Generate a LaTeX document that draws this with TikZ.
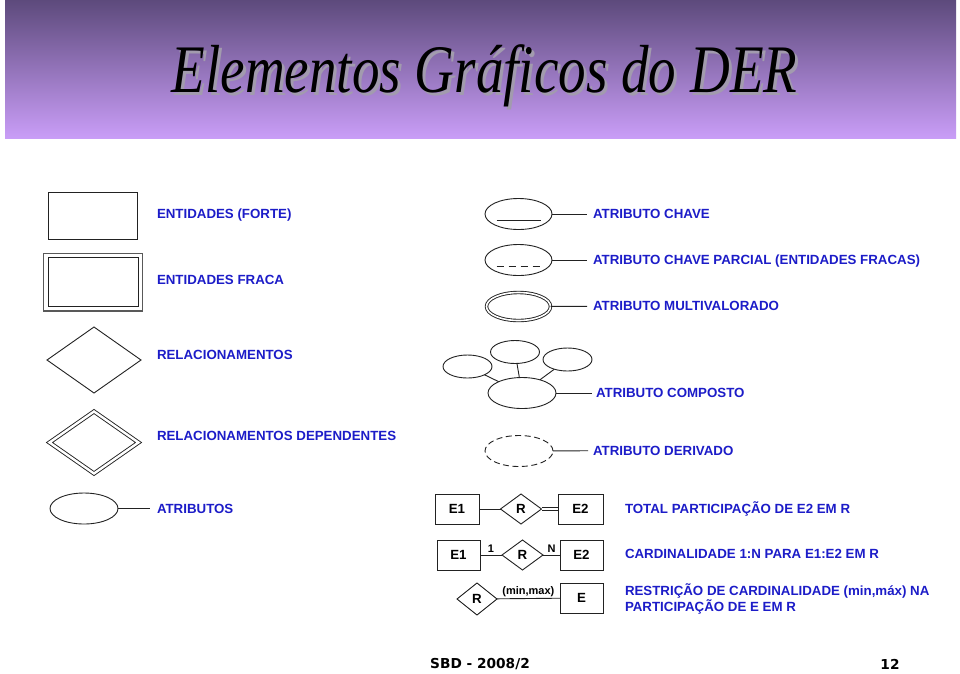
\documentclass[tikz,border=0pt]{standalone}
\usepackage{fontspec}
\usepackage{tikz}
\usetikzlibrary{positioning,shapes.geometric,calc}
\newfontfamily\derlabel{Liberation Sans}
\newfontfamily\derfoot{DejaVu Sans}
\newfontfamily\dertitle{Liberation Serif}
\definecolor{DerBlue}{HTML}{1C1CC8}
\definecolor{DerLine}{HTML}{222222}
\definecolor{DerPurpleTop}{HTML}{5D4A7C}
\definecolor{DerPurpleMid}{HTML}{9472C0}
\definecolor{DerPurpleLow}{HTML}{C99DF7}
\definecolor{DerShadow}{HTML}{A29BAE}
\newcommand{\dertitletext}{\scalebox{0.81}[1]{Elementos Gráficos do DER}}

\begin{document}
\begin{tikzpicture}[
  x=1pt, y=-1pt,
  every node/.style={inner sep=0pt, outer sep=0pt},
  lbl/.style={anchor=west, text=DerBlue, font=\derlabel\bfseries\fontsize{13.3}{15.5}\selectfont, text height=9.5pt, text depth=0pt},
  erline/.style={draw=DerLine, line width=0.9pt},
  ent/.style={erline, minimum width=89pt, minimum height=47pt},
  rel/.style={erline, diamond, minimum width=94pt, minimum height=66pt},
  weakrel/.style={erline, diamond, double, double distance=2.4pt, minimum width=89pt, minimum height=62pt},
  atr/.style={erline, ellipse, minimum width=67pt, minimum height=31pt},
  subatr/.style={erline, ellipse, minimum width=49pt, minimum height=23pt},
  smallent/.style={erline, minimum width=44pt, minimum height=30pt, font=\derlabel\bfseries\fontsize{13.3}{15.5}\selectfont},
  smallrel/.style={erline, diamond, minimum width=41pt, minimum height=30pt, font=\derlabel\bfseries\fontsize{13.3}{15.5}\selectfont},
  link/.style={erline, shorten >=6pt},
  card/.style={font=\derlabel\bfseries\fontsize{11}{12}\selectfont},
  titletext/.style={font=\dertitle\itshape\fontsize{68}{72}\selectfont}
]
\useasboundingbox (0,0) rectangle (960,673);
\fill[white] (0,0) rectangle (960,673);

% title band, shadow set in the same node
\shade[top color=DerPurpleTop, middle color=DerPurpleMid, bottom color=DerPurpleLow] (5,0) rectangle (956,138);
\node[titletext] (title) at (484.5,77.5) {\rlap{\hspace{3pt}\raisebox{-3pt}{\color{DerShadow}\dertitletext}}\dertitletext};

% left column
\node[ent] (forte) at (92.5,215.5) {};
\node[lbl] (fortelbl) at (157,214) {ENTIDADES (FORTE)};
\node[erline, draw=DerLine!75, line width=1.5pt, minimum width=99pt, minimum height=57.5pt] (fraca) at (93,282) {};
\node[erline, minimum width=90.5pt, minimum height=48.5pt] (fracain) at (93.5,282) {};
\node[lbl] (fracalbl) at (157,280) {ENTIDADES FRACA};
\node[rel] (relac) at (94,360) {};
\node[lbl] (relaclbl) at (157,355) {RELACIONAMENTOS};
\node[weakrel] (reldep) at (94,442.5) {};
\node[lbl] (reldeplbl) at (157,436) {RELACIONAMENTOS DEPENDENTES};
\node[atr, minimum width=68pt] (atrib) at (84,508.5) {};
\node[lbl] (atriblbl) at (157,508.5) {ATRIBUTOS};
\draw[link, shorten >=7pt] (atrib) -- (atriblbl);

% attribute kinds
\node[atr] (chave) at (518.5,214) {};
\node[lbl] (chavelbl) at (593,214) {ATRIBUTO CHAVE};
\draw[erline] ($(chave.center)+(-22,6)$) -- ($(chave.center)+(22,6)$);
\draw[link] (chave) -- (chavelbl);

\node[atr] (parcial) at (518.5,260) {};
\node[lbl] (parciallbl) at (593,260) {ATRIBUTO CHAVE PARCIAL (ENTIDADES FRACAS)};
\draw[erline, dash pattern=on 7pt off 5pt] ($(parcial.center)+(-22,6)$) -- ($(parcial.center)+(22,6)$);
\draw[link] (parcial) -- (parciallbl);

\node[atr, double, double distance=1.6pt, minimum width=64pt, minimum height=28pt] (multi) at (518.5,306.5) {};
\node[lbl] (multilbl) at (593,306) {ATRIBUTO MULTIVALORADO};
\draw[link] (multi) -- (multilbl);

\node[atr, minimum width=68pt] (composto) at (522,393) {};
\node[subatr] (parte1) at (467.5,366.5) {};
\node[subatr] (parte2) at (515,352) {};
\node[subatr] (parte3) at (567.5,359.5) {};
\node[lbl] (compostolbl) at (596,393) {ATRIBUTO COMPOSTO};
\draw[erline] (parte1) -- (composto);
\draw[erline] (parte2) -- (composto);
\draw[erline] (parte3) -- (composto);
\draw[link, shorten >=4pt] (composto) -- (compostolbl);

\node[atr, minimum width=68pt, dash pattern=on 6pt off 3.5pt] (derivado) at (519,451) {};
\node[lbl] (derivadolbl) at (593,450.5) {ATRIBUTO DERIVADO};
\draw[link, shorten >=5pt] (derivado) -- (derivadolbl);

% participation and cardinality
\node[smallent] (totE1) at (457,509) {E1};
\node[smallrel] (totR) at (521,509) {R};
\node[smallent, minimum width=45pt] (totE2) at (580.5,509) {E2};
\draw[erline] (totE1) -- (totR);
\draw[erline, double, double distance=2.2pt] (totR) -- (totE2);
\node[lbl] (totlbl) at (625,509) {TOTAL PARTICIPAÇÃO DE E2 EM R};

\node[smallent, minimum width=43pt] (cardE1) at (458.5,555) {E1};
\node[smallrel] (cardR) at (522.5,555) {R};
\node[smallent, minimum width=43pt] (cardE2) at (581.5,555) {E2};
\draw[erline] (cardE1) -- node[card, midway, above=3pt] {1} (cardR);
\draw[erline] (cardR) -- node[card, midway, above=3pt] {N} (cardE2);
\node[lbl] (cardlbl) at (625,554) {CARDINALIDADE 1:N PARA E1:E2 EM R};

\node[smallrel, minimum width=40pt, minimum height=32pt] (minR) at (477,599) {R};
\node[smallent, minimum width=43pt] (minE) at (581.5,598) {E};
\draw[erline] (minR) -- node[card, midway, above=2pt] {(min,max)} (minE);
\node[anchor=north west, text=DerBlue, align=left, font=\derlabel\bfseries\fontsize{13.3}{15.8}\selectfont] (minlbl) at (625,583.5) {RESTRIÇÃO DE CARDINALIDADE (min,máx) NA\\PARTICIPAÇÃO DE E EM R};

% footer
\node[font=\derfoot\bfseries\fontsize{13.7}{16}\selectfont] (rodape) at (480,664) {SBD - 2008/2};
\node[font=\derfoot\bfseries\fontsize{13.7}{16}\selectfont] (pagina) at (890,664) {12};
\end{tikzpicture}
\end{document}
